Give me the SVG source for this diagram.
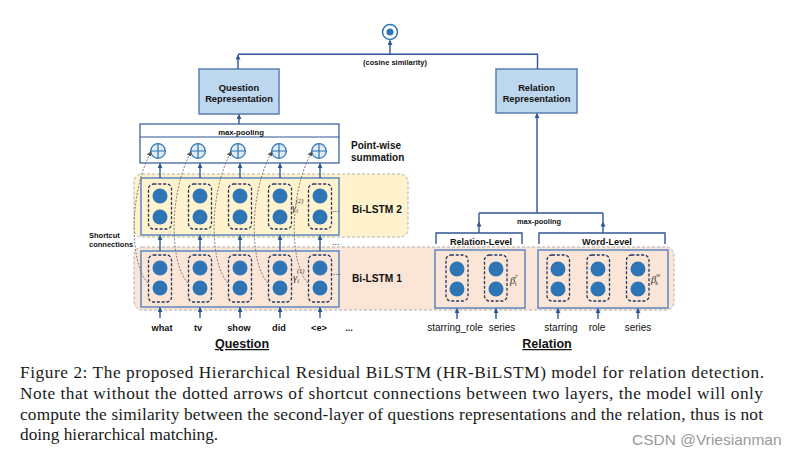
<svg xmlns="http://www.w3.org/2000/svg" width="799" height="456" viewBox="0 0 799 456">
<defs>
<marker id="arr" viewBox="0 0 6 6" refX="5.5" refY="3" markerWidth="5" markerHeight="5" orient="auto" markerUnits="userSpaceOnUse"><path d="M0,0 L6,3 L0,6 z" fill="#2f5597"/></marker>
<marker id="arrg" viewBox="0 0 6 6" refX="5.5" refY="3" markerWidth="5" markerHeight="5" orient="auto" markerUnits="userSpaceOnUse"><path d="M0,0 L6,3 L0,6 z" fill="#555"/></marker>
</defs>
<style>
.lbl{font-family:"Liberation Sans",Arial,sans-serif;font-weight:bold;fill:#111}
.wd{font-family:"Liberation Sans",Arial,sans-serif;font-size:10px;fill:#111;text-anchor:middle}
.qw{font-family:"Liberation Sans",Arial,sans-serif;font-size:9.2px;font-weight:bold;fill:#111;text-anchor:middle}
.mid{text-anchor:middle}
.sym{font-family:"Liberation Serif","Times New Roman",serif;font-style:italic;fill:#333}
.cap{font-family:"Liberation Serif","Times New Roman",serif;font-size:17.3px;fill:#1a1a1a}
.conn{fill:none;stroke:#2f5597;stroke-width:1.4}
.sc{fill:none;stroke:#6f6f6f;stroke-width:0.9;stroke-dasharray:2 1.5}
.cell{fill:none;stroke:#203864;stroke-width:1.3;stroke-dasharray:3 1.8}
.dot{fill:#2e75b6}
.inner{fill:none;stroke:#5b87bf;stroke-width:1.5}
.rep{fill:#bdd7ee;stroke:#5a80b0;stroke-width:1.5}
.region{stroke:#b0b0b0;stroke-width:1;stroke-dasharray:3 2}
.plus circle{fill:#deebf7;stroke:#2e75b6;stroke-width:1.3}
.plus path{stroke:#2e75b6;stroke-width:1.2;fill:none}
.dots{font-family:"Liberation Sans",Arial,sans-serif;font-size:9px;fill:#333}
</style>
<rect width="799" height="456" fill="#ffffff"/>

<!-- background regions -->
<g id="bilstm2-region">
<rect class="region" x="134" y="174" width="274" height="63" rx="8" fill="#fff2cc"/>
<text class="lbl" x="352" y="213" font-size="10.2">Bi-LSTM 2</text>
</g>
<g id="bilstm1-region">
<rect class="region" x="134" y="247" width="540" height="63" rx="8" fill="#fbe5d6"/>
<text class="lbl" x="352" y="282" font-size="10.2">Bi-LSTM 1</text>
</g>

<!-- cosine similarity -->
<g id="cosine">
<circle cx="390" cy="32" r="7.5" fill="#ffffff" stroke="#2e75b6" stroke-width="1.5"/>
<circle cx="390" cy="32" r="3.5" fill="#2e75b6"/>
<text class="lbl mid" x="395" y="64.5" font-size="7.5">(cosine similarity)</text>
</g>

<g id="question-rep">
<rect class="rep" x="199" y="69" width="80" height="45"/>
<text class="lbl mid" x="239" y="91" font-size="9.3">Question</text>
<text class="lbl mid" x="239" y="101.5" font-size="9.3">Representation</text>
</g>

<g id="relation-rep">
<rect class="rep" x="496" y="69" width="81" height="44"/>
<text class="lbl mid" x="536.5" y="90.5" font-size="9.3">Relation</text>
<text class="lbl mid" x="536.5" y="101.5" font-size="9.3">Representation</text>
</g>

<g id="q-maxpool">
<rect x="140" y="124" width="199" height="39" fill="#ffffff" stroke="#2f5597" stroke-width="1.2"/>
<line x1="140" y1="137" x2="339" y2="137" stroke="#2f5597" stroke-width="1.2"/>
<text class="lbl mid" x="241" y="134.5" font-size="7.7">max-pooling</text>
</g>
<g id="plus-nodes" class="plus">
<g id="plus1"><circle cx="158" cy="151" r="7.3"/><path d="M150.7,151 H165.3 M158,143.7 V158.3"/></g>
<g id="plus2"><circle cx="198" cy="151" r="7.3"/><path d="M190.7,151 H205.3 M198,143.7 V158.3"/></g>
<g id="plus3"><circle cx="238" cy="151" r="7.3"/><path d="M230.7,151 H245.3 M238,143.7 V158.3"/></g>
<g id="plus4"><circle cx="279" cy="151" r="7.3"/><path d="M271.7,151 H286.3 M279,143.7 V158.3"/></g>
<g id="plus5"><circle cx="319" cy="151" r="7.3"/><path d="M311.7,151 H326.3 M319,143.7 V158.3"/></g>
</g>
<g id="pointwise-label">
<text class="lbl" x="351" y="149" font-size="10">Point-wise</text>
<text class="lbl" x="351" y="161" font-size="10">summation</text>
</g>

<!-- question layer 2 -->
<g id="q-layer2">
<rect class="inner" x="141" y="178" width="198" height="57"/>
<g id="q2-c1"><rect class="cell" x="148.5" y="184" width="23" height="45" rx="5"/><circle class="dot" cx="160" cy="196" r="7.5"/><circle class="dot" cx="160" cy="217" r="7.5"/></g>
<g id="q2-c2"><rect class="cell" x="188.5" y="184" width="23" height="45" rx="5"/><circle class="dot" cx="200" cy="196" r="7.5"/><circle class="dot" cx="200" cy="217" r="7.5"/></g>
<g id="q2-c3"><rect class="cell" x="228.5" y="184" width="23" height="45" rx="5"/><circle class="dot" cx="240" cy="196" r="7.5"/><circle class="dot" cx="240" cy="217" r="7.5"/></g>
<g id="q2-c4"><rect class="cell" x="268.5" y="184" width="23" height="45" rx="5"/><circle class="dot" cx="280" cy="196" r="7.5"/><circle class="dot" cx="280" cy="217" r="7.5"/></g>
<g id="q2-c5"><rect class="cell" x="308.5" y="184" width="23" height="45" rx="5"/><circle class="dot" cx="320" cy="196" r="7.5"/><circle class="dot" cx="320" cy="217" r="7.5"/></g>
<text class="dots" x="332" y="212">...</text>
</g>

<!-- question layer 1 -->
<g id="q-layer1">
<rect class="inner" x="141" y="251" width="198" height="56"/>
<g id="q1-c1"><rect class="cell" x="148.5" y="255" width="23" height="47" rx="5"/><circle class="dot" cx="160" cy="268" r="7.5"/><circle class="dot" cx="160" cy="288" r="7.5"/></g>
<g id="q1-c2"><rect class="cell" x="188.5" y="255" width="23" height="47" rx="5"/><circle class="dot" cx="200" cy="268" r="7.5"/><circle class="dot" cx="200" cy="288" r="7.5"/></g>
<g id="q1-c3"><rect class="cell" x="228.5" y="255" width="23" height="47" rx="5"/><circle class="dot" cx="240" cy="268" r="7.5"/><circle class="dot" cx="240" cy="288" r="7.5"/></g>
<g id="q1-c4"><rect class="cell" x="268.5" y="255" width="23" height="47" rx="5"/><circle class="dot" cx="280" cy="268" r="7.5"/><circle class="dot" cx="280" cy="288" r="7.5"/></g>
<g id="q1-c5"><rect class="cell" x="308.5" y="255" width="23" height="47" rx="5"/><circle class="dot" cx="320" cy="268" r="7.5"/><circle class="dot" cx="320" cy="288" r="7.5"/></g>
<text class="dots" x="333" y="275">...</text>
</g>
<text class="dots" x="332" y="245">...</text>

<!-- relation side -->
<g id="rel-level">
<rect class="inner" x="435" y="250" width="90" height="58"/>
<g id="r-c1"><rect class="cell" x="446" y="255" width="22" height="46" rx="5"/><circle class="dot" cx="457" cy="269" r="7.5"/><circle class="dot" cx="457" cy="289" r="7.5"/></g>
<g id="r-c2"><rect class="cell" x="484.5" y="255" width="22.5" height="46" rx="5"/><circle class="dot" cx="496" cy="269" r="7.5"/><circle class="dot" cx="496" cy="289" r="7.5"/></g>
<text class="sym" x="510" y="283.5" font-size="10.5">β<tspan font-size="6.5" dy="-5.5">r</tspan><tspan font-size="6.5" dx="-3" dy="8">i</tspan></text>
</g>
<g id="word-level">
<rect class="inner" x="538" y="250" width="130" height="58"/>
<g id="w-c1"><rect class="cell" x="547" y="255" width="22.5" height="46" rx="5"/><circle class="dot" cx="558" cy="269" r="7.5"/><circle class="dot" cx="558" cy="289" r="7.5"/></g>
<g id="w-c2"><rect class="cell" x="587" y="255" width="22.5" height="46" rx="5"/><circle class="dot" cx="598" cy="269" r="7.5"/><circle class="dot" cx="598" cy="289" r="7.5"/></g>
<g id="w-c3"><rect class="cell" x="626.5" y="255" width="22.5" height="46" rx="5"/><circle class="dot" cx="638" cy="269" r="7.5"/><circle class="dot" cx="638" cy="289" r="7.5"/></g>
<text class="sym" x="651" y="282.5" font-size="10.5">β<tspan font-size="6" dy="-5.5">w</tspan><tspan font-size="6" dx="-5" dy="8">k</tspan></text>
</g>
<g id="gamma-labels">
<text class="sym" x="292" y="211" font-size="10.5">γ<tspan font-size="6.5" dy="2">i</tspan><tspan font-size="6.5" dx="-2" dy="-10">(2)</tspan></text>
<text class="sym" x="293" y="281" font-size="10.5">γ<tspan font-size="6.5" dy="2">i</tspan><tspan font-size="6.5" dx="-2" dy="-10">(1)</tspan></text>
</g>

<g id="rel-brackets">
<text class="lbl mid" x="481" y="245" font-size="9.1">Relation-Level</text>
<text class="lbl mid" x="607" y="245" font-size="9.2">Word-Level</text>
<text class="lbl mid" x="539" y="223.5" font-size="7.4">max-pooling</text>
</g>

<!-- connectors -->
<g id="connectors">
<path class="conn" d="M238,69 V55" marker-end="url(#arr)"/>
<path class="conn" d="M238,54.3 H537.5 V69"/>
<path class="conn" d="M390,54 V40.5" marker-end="url(#arr)"/>
<path class="conn" d="M239,124 V114.5" marker-end="url(#arr)"/>
<path class="conn" d="M537,213 V113.5" marker-end="url(#arr)"/>
<path class="conn" d="M479,213 H603"/>
<path class="conn" d="M479,233 V222" marker-end="url(#arr)"/>
<path class="conn" d="M479,222 V213"/>
<path class="conn" d="M603,233 V222" marker-end="url(#arr)"/>
<path class="conn" d="M603,222 V213"/>
<path class="conn" d="M436,244 V233 H522 V244"/>
<path class="conn" d="M539,244 V233 H665 V244"/>
<path class="conn" d="M160,178 V163.5" marker-end="url(#arr)"/>
<path class="conn" d="M200,178 V163.5" marker-end="url(#arr)"/>
<path class="conn" d="M240,178 V163.5" marker-end="url(#arr)"/>
<path class="conn" d="M280,178 V163.5" marker-end="url(#arr)"/>
<path class="conn" d="M320,178 V163.5" marker-end="url(#arr)"/>
<path class="conn" d="M160,251 V235.5" marker-end="url(#arr)"/>
<path class="conn" d="M200,251 V235.5" marker-end="url(#arr)"/>
<path class="conn" d="M240,251 V235.5" marker-end="url(#arr)"/>
<path class="conn" d="M280,251 V235.5" marker-end="url(#arr)"/>
<path class="conn" d="M320,251 V235.5" marker-end="url(#arr)"/>
<path class="conn" d="M160,318 V307.5" marker-end="url(#arr)"/>
<path class="conn" d="M200,318 V307.5" marker-end="url(#arr)"/>
<path class="conn" d="M240,318 V307.5" marker-end="url(#arr)"/>
<path class="conn" d="M280,318 V307.5" marker-end="url(#arr)"/>
<path class="conn" d="M320,318 V307.5" marker-end="url(#arr)"/>
<path class="conn" d="M457,319 V308.5" marker-end="url(#arr)"/>
<path class="conn" d="M496,319 V308.5" marker-end="url(#arr)"/>
<path class="conn" d="M558,319 V308.5" marker-end="url(#arr)"/>
<path class="conn" d="M598,319 V308.5" marker-end="url(#arr)"/>
<path class="conn" d="M638,319 V308.5" marker-end="url(#arr)"/>
<path class="sc" d="M148,283 C130,265 128,195 151,151.5" marker-end="url(#arrg)"/>
<path class="sc" d="M188,283 C170,265 168,195 191,151.5" marker-end="url(#arrg)"/>
<path class="sc" d="M228,283 C210,265 208,195 231,151.5" marker-end="url(#arrg)"/>
<path class="sc" d="M268,283 C250,265 248,195 272,151.5" marker-end="url(#arrg)"/>
<path class="sc" d="M308,283 C290,265 288,195 312,151.5" marker-end="url(#arrg)"/>
</g>

<g id="shortcut-label">
<text class="lbl" x="89" y="237.5" font-size="7.5">Shortcut</text>
<text class="lbl" x="89" y="246.5" font-size="7.5">connections</text>
</g>

<g id="question-words">
<text class="qw" x="162" y="330.5">what</text>
<text class="qw" x="198" y="330.5">tv</text>
<text class="qw" x="239" y="330.5">show</text>
<text class="qw" x="279" y="330.5">did</text>
<text class="qw" x="319" y="330.5">&lt;e&gt;</text>
<text class="qw" x="349" y="330.5">...</text>
<text class="lbl mid" x="242" y="348" font-size="12.5" text-decoration="underline">Question</text>
</g>
<g id="relation-words">
<text class="wd" x="455" y="331">starring_role</text>
<text class="wd" x="502" y="331">series</text>
<text class="wd" x="561" y="331">starring</text>
<text class="wd" x="597" y="331">role</text>
<text class="wd" x="638" y="331">series</text>
<text class="lbl mid" x="547" y="348" font-size="12.5" text-decoration="underline">Relation</text>
</g>

<g id="caption">
<text class="cap" x="20" y="378" textLength="744" lengthAdjust="spacing">Figure 2:  The proposed Hierarchical Residual BiLSTM (HR-BiLSTM) model for relation detection.</text>
<text class="cap" x="20" y="399" textLength="743" lengthAdjust="spacing">Note that without the dotted arrows of shortcut connections between two layers, the model will only</text>
<text class="cap" x="20" y="419.5" textLength="743" lengthAdjust="spacing">compute the similarity between the second-layer of questions representations and the relation, thus is not</text>
<text class="cap" x="20" y="440">doing hierarchical matching.</text>
</g>
<text x="632" y="445" font-family="'Liberation Sans',Arial,sans-serif" font-size="15.5" fill="#9a9a9a">CSDN @Vriesianman</text>
</svg>
